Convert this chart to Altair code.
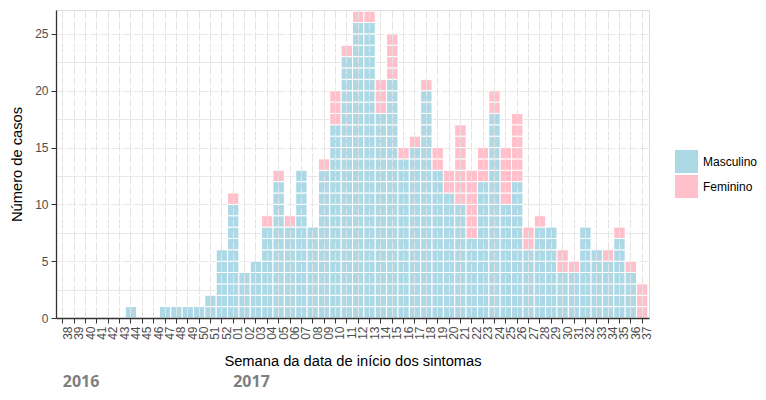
import altair as alt
import pandas as pd

weeks = ["38", "39", "40", "41", "42", "43", "44", "45", "46", "47", "48", "49", "50", "51", "52",
         "01", "02", "03", "04", "05", "06", "07", "08", "09", "10", "11", "12", "13", "14", "15",
         "16", "17", "18", "19", "20", "21", "22", "23", "24", "25", "26", "27", "28", "29", "30",
         "31", "32", "33", "34", "35", "36", "37"]
masculino = [0, 0, 0, 0, 0, 0, 1, 0, 0, 1, 1, 1, 1, 2, 6,
             10, 4, 5, 8, 12, 8, 13, 8, 13, 17, 23, 26, 26, 18, 21,
             14, 15, 20, 13, 11, 10, 7, 12, 18, 10, 12, 6, 8, 8, 4,
             4, 8, 6, 5, 7, 4, 0]
feminino = [0, 0, 0, 0, 0, 0, 0, 0, 0, 0, 0, 0, 0, 0, 0,
            1, 0, 0, 1, 1, 1, 0, 0, 1, 3, 1, 1, 1, 3, 4,
            1, 1, 1, 2, 2, 7, 6, 3, 2, 5, 6, 2, 1, 0, 2,
            1, 0, 0, 1, 1, 1, 3]
sexes = ["Masculino", "Feminino"]
colors = ["#ADD8E6", "#FFC0CB"]
years = ["2016", "2017"]
year_first_week = ["38", "01"]
y_ticks = [0, 2.5, 5, 7.5, 10, 12.5, 15, 17.5, 20, 22.5, 25]

# one row per case, stacked: males first, then females on top
rows = []
for w, m, f in zip(weeks, masculino, feminino):
    k = 0
    for _ in range(m):
        rows.append({"semana": w, "sexo": "Masculino", "y0": k, "y1": k + 1})
        k += 1
    for _ in range(f):
        rows.append({"semana": w, "sexo": "Feminino", "y0": k, "y1": k + 1})
        k += 1
cases = pd.DataFrame(rows)
year_df = pd.DataFrame({"semana": year_first_week, "ano": years})

font = "Liberation Sans"

x_enc = alt.X(
    "semana:N",
    sort=weeks,
    scale=alt.Scale(domain=weeks, paddingInner=0, paddingOuter=0.1),
    axis=alt.Axis(
        title="Semana da data de início dos sintomas",
        labelAngle=270,
        labelAlign="right",
        labelBaseline="middle",
        labelOffset=5,
        labelPadding=3,
        labelFontSize=12,
        labelColor="#4D4D4D",
        labelFont=font,
        tickSize=5,
        tickColor="#333333",
        domainColor="#333333",
        domainWidth=1.3,
        grid=True,
        gridColor="#E4E4E4",
        gridDash=[9, 2],
        gridWidth=1,
        titleFont=font,
        titleFontSize=14.7,
        titleFontWeight="normal",
        titleColor="#000000",
        titlePadding=14,
    ),
)

bars = alt.Chart(cases).mark_rect(stroke="white", strokeWidth=1).encode(
    x=x_enc,
    y=alt.Y(
        "y0:Q",
        scale=alt.Scale(domain=[0, 27.1], nice=False, zero=True),
        axis=alt.Axis(
            title="Número de casos",
            values=y_ticks,
            labelExpr="datum.value % 5 === 0 ? datum.label : ''",
            labelFontSize=12,
            labelColor="#4D4D4D",
            labelFont=font,
            labelPadding=3,
            tickSize=5,
            tickColor="#333333",
            tickOpacity={"condition": {"test": "datum.value % 5 === 0", "value": 1}, "value": 0},
            domainColor="#333333",
            domainWidth=1.3,
            grid=True,
            gridColor="#E8E8E8",
            gridDash={"condition": {"test": "datum.value % 5 === 0", "value": [9, 2]}, "value": []},
            gridWidth=1,
            titleFont=font,
            titleFontSize=14.7,
            titleFontWeight="normal",
            titleColor="#000000",
            titlePadding=10,
        ),
    ),
    y2="y1:Q",
    color=alt.Color(
        "sexo:N",
        scale=alt.Scale(domain=sexes, range=colors),
        legend=alt.Legend(
            title=None,
            orient="none",
            legendX=619,
            legendY=140,
            symbolType="square",
            symbolSize=529,
            symbolStrokeWidth=0,
            labelFont=font,
            labelFontSize=12,
            labelColor="#000000",
            labelOffset=5,
            rowPadding=2,
            padding=0,
        ),
    ),
)

year_text = alt.Chart(year_df).mark_text(
    align="left", baseline="alphabetic", font="Open Sans", fontWeight="bold",
    fontSize=16, color="#7F7F7F",
).encode(
    x=alt.X("semana:N", sort=weeks),
    y=alt.value(377),
    text="ano:N",
)

chart = alt.layer(bars, year_text).properties(
    width=593,
    height=308,
    autosize=alt.AutoSizeParams(type="none"),
    padding={"left": 48, "top": 2, "right": 109, "bottom": 74},
).configure_view(stroke=None).configure(background="white")

chart.save("out.html", embed_options={"renderer": "svg", "actions": False})
